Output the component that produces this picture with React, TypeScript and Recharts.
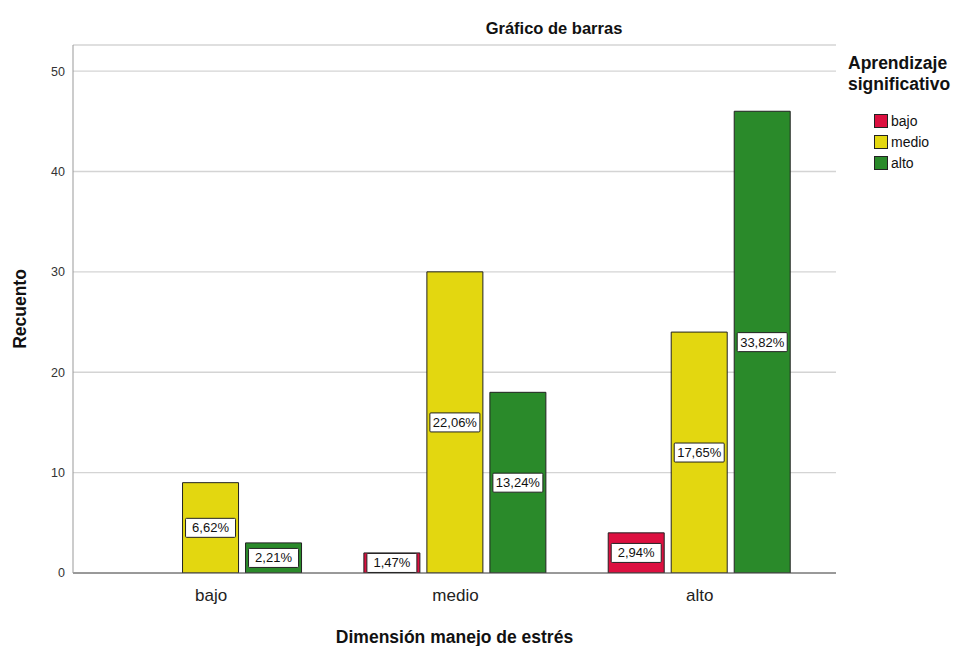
import React from 'react';
import { ComposedChart, Bar, XAxis, YAxis, CartesianGrid, LabelList } from 'recharts';

const categories = ['bajo', 'medio', 'alto'];
const serieBajo = [0, 2, 4];
const serieMedio = [9, 30, 24];
const serieAlto = [3, 18, 46];
const yTicks = [0, 10, 20, 30, 40, 50];
const seriesNames = ['bajo', 'medio', 'alto'];
const seriesColors = ['#dc1040', '#e3d710', '#2a8a2a'];

const total = [...serieBajo, ...serieMedio, ...serieAlto].reduce((a, b) => a + b, 0);
const data = categories.map((c, i) => ({ cat: c, bajo: serieBajo[i], medio: serieMedio[i], alto: serieAlto[i] }));

const FONT = 'Arial, "Liberation Sans", sans-serif';

const PctLabel = (props: any) => {
  const { x, y, width, height, value } = props;
  if (!value) return null;
  const pct = ((value / total) * 100).toFixed(2).replace('.', ',') + '%';
  const cx = x + width / 2;
  const cy = y + height / 2;
  const w = 50;
  const h = 19;
  return (
    <g>
      <rect x={cx - w / 2} y={cy - h / 2} width={w} height={h} fill="#ffffff" stroke="#222" strokeWidth={1} rx={1} />
      <text x={cx} y={cy + 4.5} textAnchor="middle" fontSize={13} fontFamily={FONT} fill="#111">{pct}</text>
    </g>
  );
};

const LegendBox = () => (
  <div style={{ position: 'absolute', left: 848, top: 53, fontFamily: FONT, color: '#111' }}>
    <div style={{ fontWeight: 'bold', fontSize: 17.5, lineHeight: '21px' }}>Aprendizaje<br />significativo</div>
    <div style={{ marginTop: 15, marginLeft: 26 }}>
      {seriesNames.map((n, i) => (
        <div key={n} style={{ display: 'flex', alignItems: 'center', height: 21 }}>
          <span style={{ display: 'inline-block', width: 14, height: 14, background: seriesColors[i], border: '1px solid #222', boxSizing: 'border-box', marginRight: 3 }} />
          <span style={{ fontSize: 14 }}>{n}</span>
        </div>
      ))}
    </div>
  </div>
);

export default function App() {
  return (
    <div style={{ position: 'absolute', left: 0, top: 0, width: 971, height: 646, background: '#fff', fontFamily: FONT }}>
      <div style={{ position: 'absolute', left: 454, width: 200, top: 19, textAlign: 'center', fontWeight: 'bold', fontSize: 16.5, color: '#111' }}>Gráfico de barras</div>
      <ComposedChart width={971} height={646} data={data} margin={{ top: 45, right: 135, bottom: 0, left: 0 }} barGap={7} barCategoryGap="12.5%">
        <CartesianGrid vertical={false} stroke="#d4d4d4" strokeWidth={1.3} />
        <XAxis
          dataKey="cat"
          height={73}
          padding={{ left: 16, right: 14 }}
          tickLine={false}
          tickSize={0}
          tickMargin={16}
          stroke="#555"
          tick={{ fontSize: 17, fill: '#222', fontFamily: FONT }}
          label={{ value: 'Dimensión manejo de estrés', position: 'insideBottom', offset: 3, style: { fontSize: 17.5, fontWeight: 'bold', fill: '#111', fontFamily: FONT } }}
        />
        <YAxis
          width={73}
          domain={[0, 52.6]}
          ticks={yTicks}
          allowDataOverflow
          tickLine={false}
          tickSize={0}
          tickMargin={8}
          stroke="#999"
          tick={{ fontSize: 12.5, fill: '#333', fontFamily: FONT }}
          label={{ value: 'Recuento', angle: -90, position: 'insideLeft', offset: 20, style: { fontSize: 17.5, fontWeight: 'bold', fill: '#111', fontFamily: FONT, textAnchor: 'middle' } }}
        />
        {seriesNames.map((n, i) => (
          <Bar key={n} dataKey={n} fill={seriesColors[i]} stroke="#222" strokeWidth={1} isAnimationActive={false}>
            <LabelList dataKey={n} content={<PctLabel />} />
          </Bar>
        ))}
      </ComposedChart>
      <LegendBox />
    </div>
  );
}
